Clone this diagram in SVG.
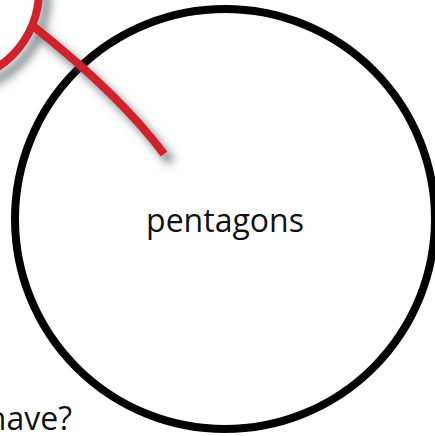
<svg xmlns="http://www.w3.org/2000/svg" width="435" height="436" viewBox="0 0 435 436">
  <defs>
    <filter id="shadow" x="-50%" y="-50%" width="200%" height="200%">
      <feDropShadow dx="7" dy="8" stdDeviation="5" flood-color="#555a60" flood-opacity="0.8"/>
    </filter>
  </defs>
  <style>
    .label { font-family: "Open Sans", "Noto Sans", "Liberation Sans", sans-serif; font-size: 32px; fill: #111111; }
    .big { fill: none; stroke: #000000; stroke-width: 8; }
    .red { fill: none; stroke: #cf212a; stroke-width: 8; }
  </style>
  <rect width="435" height="436" fill="#ffffff"/>
  <g id="pentagons">
    <circle class="big" cx="225" cy="219" r="210"/>
    <text class="label" x="225" y="232" text-anchor="middle">pentagons</text>
  </g>
  <g id="question">
    <text class="label" x="72" y="430" text-anchor="end">have?</text>
  </g>
  <g id="red-node" filter="url(#shadow)">
    <circle class="red" cx="-52" cy="-9" r="91"/>
  </g>
  <g id="connectors" filter="url(#shadow)">
    <path class="red" d="M 33 26 Q 120 95 164 154"/>
  </g>
</svg>
